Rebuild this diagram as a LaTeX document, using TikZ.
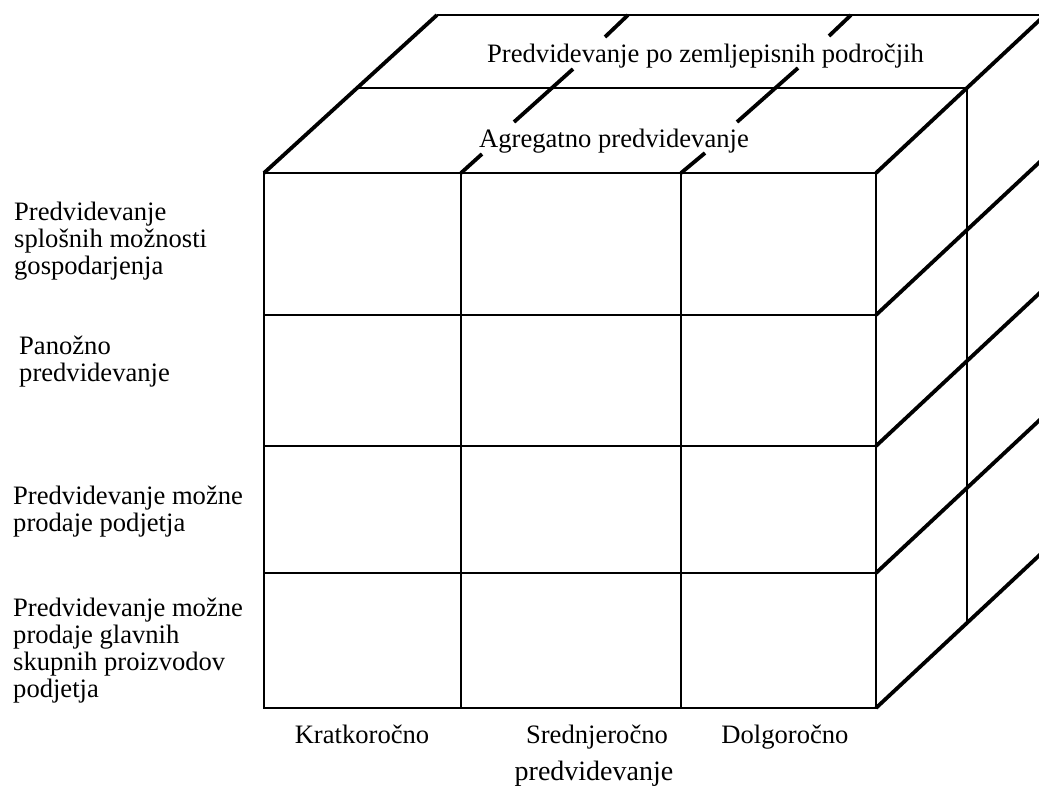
\documentclass[tikz,border=0pt]{standalone}
\usepackage{fontspec}
\setmainfont{Liberation Serif}
\begin{document}
\begin{tikzpicture}[x=1pt,y=-1pt,
  faceline/.style={line width=2.7pt},
  depthline/.style={line width=3.8pt, line cap=butt},
  lbl/.style={inner sep=0pt, font=\fontsize{26.6}{27.2}\selectfont},
  biglbl/.style={inner sep=0pt, font=\fontsize{28}{30}\selectfont},
]
\useasboundingbox (0,0) rectangle (1039,790);
\fill[white] (0,0) rectangle (1039,790);
% named corners
\coordinate (F1) at (264,173);
\coordinate (F2) at (876,173);
\coordinate (F3) at (876,708);
\coordinate (F4) at (264,708);
\coordinate (M1) at (357,88);
\coordinate (B1) at (437,15);
\coordinate (M2) at (967,88);
\coordinate (B2) at (1045,15);
\coordinate (V5) at (967,623);
\begin{scope}
\clip (0,0) rectangle (1039,790);
% front face
\draw[faceline] (F1) rectangle (F3);
\foreach \y in {315,446,573} \draw[faceline] (264,\y) -- (876,\y);
\foreach \x in {461,681} \draw[faceline] (\x,173) -- (\x,708);
% top face
\draw[faceline] (M1) -- (M2);
\draw[faceline] (B1) -- (B2);
% right face back vertical
\draw[faceline] (M2) -- (V5);
% depth edges
\draw[depthline] (F1) -- (B1);
\draw[depthline] (F2) -- (B2);
\foreach \y in {315,446,573,708} \draw[depthline] (876,\y) -- (1045,\y-158);
% interrupted depth lines on top face
\draw[depthline] (461,173) -- (482,154);
\draw[depthline] (514,122) -- (573,69);
\draw[depthline] (605,37) -- (628,15);
\draw[depthline] (681,173) -- (705,153);
\draw[depthline] (737,122) -- (798,68);
\draw[depthline] (829,36) -- (851,15);
\end{scope}
% top labels
\node[lbl, anchor=base west] (tzem) at (487,62) {Predvidevanje po zemljepisnih področjih};
\node[lbl, anchor=base west] (tagr) at (479,147) {Agregatno predvidevanje};
% left labels
\node[lbl, anchor=base west] (lone) at (14,220) {\begin{tabular}[t]{@{}l@{}}Predvidevanje\\splošnih možnosti\\gospodarjenja\end{tabular}};
\node[lbl, anchor=base west] (ltwo) at (19,354) {\begin{tabular}[t]{@{}l@{}}Panožno\\predvidevanje\end{tabular}};
\node[lbl, anchor=base west] (lthree) at (13,504) {\begin{tabular}[t]{@{}l@{}}Predvidevanje možne\\prodaje podjetja\end{tabular}};
\node[lbl, anchor=base west] (lfour) at (13,616) {\begin{tabular}[t]{@{}l@{}}Predvidevanje možne\\prodaje glavnih\\skupnih proizvodov\\podjetja\end{tabular}};
% bottom labels
\node[lbl, anchor=base] (bkr) at (362,743) {Kratkoročno};
\node[lbl, anchor=base] (bsr) at (597,743) {Srednjeročno};
\node[lbl, anchor=base] (bdo) at (785,743) {Dolgoročno};
\node[biglbl, anchor=base] (bpr) at (594,780) {predvidevanje};
\end{tikzpicture}
\end{document}
